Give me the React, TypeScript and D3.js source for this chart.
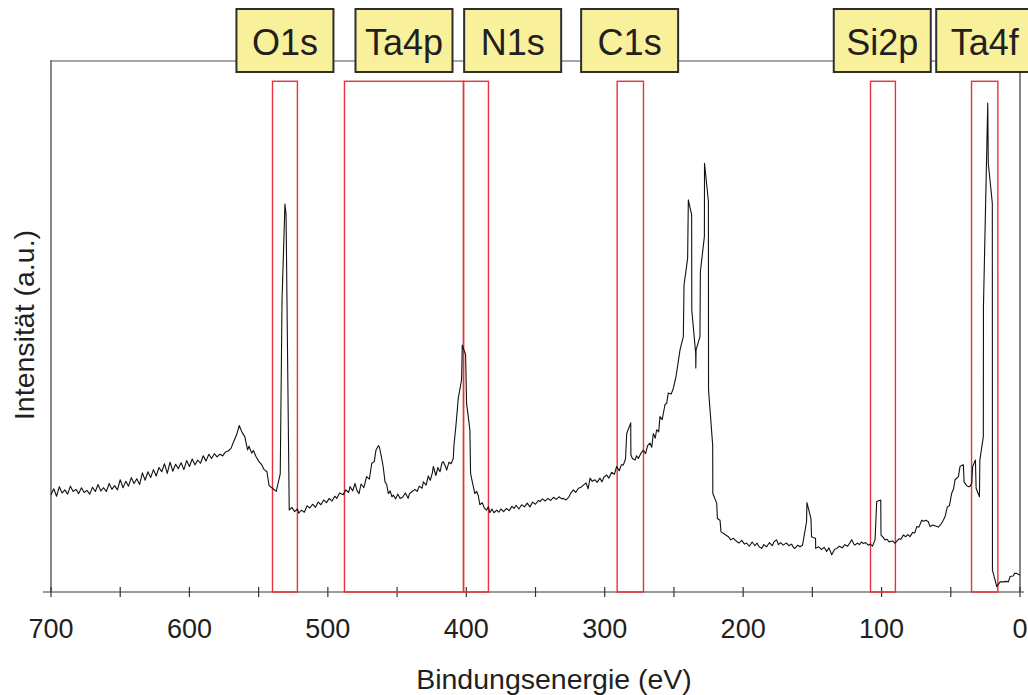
import React from "react";
import * as d3 from "d3";

// XPS survey spectrum: binding energy (eV) and intensity (a.u., 0–100)
const energy: number[] = [
  700, 698, 696, 694, 692, 690, 688, 686, 684, 682, 680, 678, 676, 674, 672, 670, 668, 666, 664, 662,
  660, 658, 656, 654, 652, 650, 648, 646, 644, 642, 640, 638, 636, 634, 632, 630, 628, 626, 624, 622,
  620, 618, 616, 614, 612, 610, 608, 606, 604, 602, 600, 598, 596, 594, 592, 590, 588, 586, 584, 582,
  580, 578, 576, 574, 572, 570, 568, 566, 564, 562, 560, 558, 557, 555, 553.8, 552, 550, 548, 546, 544,
  542.5, 540, 537.3, 534.4, 533.1, 531.0, 530.2, 527.9, 526, 524, 522, 521, 519, 517, 515, 513, 511, 509, 507, 505,
  503, 501, 499, 497, 495, 493.6, 491.5, 489, 487, 485, 484, 482, 480.4, 479, 477.5, 476, 474, 472, 470, 468.3,
  466.5, 465.2, 463.5, 462.8, 461.1, 460, 458.7, 457.5, 456.3, 455, 453.7, 452.7, 451, 449.5, 447.9, 446, 444, 442, 441, 439.5,
  437.1, 435.5, 434, 432, 431.0, 429, 427.5, 426, 424.5, 423.8, 422, 420.5, 419, 417.5, 416.6, 415, 414.2, 412.5, 411, 409.4,
  408.9, 407.5, 405.8, 403.4, 402.9, 400.5, 399.8, 397.4, 396.9, 395.5, 393.8, 392.5, 391.4, 390.2, 388.5, 387, 385.4, 384, 383.0, 381.5,
  380, 378, 376.5, 375, 373, 371, 369, 367, 365.5, 364, 362, 360, 358, 356, 354, 352, 350, 348, 346.7, 345,
  343, 341, 339, 337, 335, 333, 331, 329.9, 328, 326, 324.5, 322.6, 321, 319, 317, 315.4, 313.5, 312, 310.6, 309,
  307, 305.5, 303.4, 302, 300.5, 298.6, 297, 295, 293, 291.4, 289.5, 288, 286.5, 285, 284.1, 281.2, 281.1, 280, 278.1, 277,
  275.7, 274, 272.1, 270.5, 269, 267.3, 266, 264.9, 263.5, 262.5, 261, 260.1, 258.5, 257.6, 256.5, 255.2, 254.1, 252, 250.4, 248.5,
  245.6, 243.2, 242.7, 240.1, 239.6, 237.2, 237.1, 234.3, 234.2, 234.0, 231.2, 230.9, 228.0, 227.9, 225.1, 225.0, 222.0, 221.9, 219.1, 218.6,
  216.7, 216.0, 214, 212.5, 210.7, 209, 207, 204.7, 203, 201, 199, 197.5, 195.5, 193.5, 191.5, 190, 188.5, 186.6, 185, 183,
  181, 179, 177.5, 175.8, 174.5, 173, 171, 169.5, 168.6, 167, 165, 163.5, 162.6, 160.5, 159, 157.1, 154.2, 153.9, 151.0, 150.6,
  149, 147.7, 147.6, 145.5, 143.5, 141.5, 139.7, 138, 136.0, 134, 132.4, 130.5, 128.5, 126.5, 124.5, 123, 121.6, 120, 119.2, 117.5,
  116, 114.5, 113, 111.5, 109.6, 108, 106.6, 104.7, 103.5, 100.6, 100.4, 99, 97.5, 96, 94.5, 93.9, 92, 90.5, 89.1, 87.5,
  86, 84.3, 82.5, 81, 79.5, 77.5, 76, 74.6, 73, 71.0, 69.5, 68, 66.2, 65.0, 63, 61, 59.0, 57.5, 55.4, 54,
  52.5, 51, 49.4, 48, 46.9, 44.5, 43.3, 42, 40.9, 40.4, 38.5, 37.3, 36, 34.9, 34.2, 32.2, 31.7, 29.3, 29.0, 26.5,
  26.4, 23.3, 22.9, 20.0, 19.9, 16.8, 14.4, 12, 10, 8.4, 7.2, 5, 3.8, 2.4, 1, 0,
];

const intensity: number[] = [
  18.3, 19.4, 18.0, 19.8, 18.6, 19.2, 18.4, 19.9, 18.9, 19.3, 18.5, 19.6, 18.7, 19.1, 18.4, 19.7, 18.9, 20.2, 19.0, 19.6,
  18.9, 20.4, 19.3, 20.0, 19.2, 21.1, 19.6, 20.8, 19.9, 21.5, 20.4, 21.3, 20.2, 22.4, 21.0, 22.6, 21.5, 23.0, 21.8, 23.4,
  22.6, 24.1, 22.3, 24.4, 22.7, 24.0, 23.2, 24.3, 23.0, 24.7, 23.6, 25.0, 23.9, 24.8, 24.2, 25.6, 24.6, 25.9, 25.1, 26.0,
  25.4, 25.9, 25.6, 26.3, 26.5, 27.0, 28.3, 29.5, 31.3, 30.0, 29.2, 26.7, 27.4, 26.1, 26.6, 25.5, 24.6, 24.0, 23.0, 22.6,
  20.0, 19.5, 18.9, 22.2, 54.9, 72.9, 70.9, 15.4, 15.9, 15.1, 15.6, 14.8, 15.4, 15.0, 16.2, 15.8, 16.5, 15.9, 16.9, 16.4,
  17.3, 16.8, 17.6, 17.1, 18.0, 17.6, 18.6, 18.3, 19.2, 18.7, 19.8, 19.0, 20.4, 19.1, 18.5, 20.3, 19.6, 21.7, 21.2, 24.2,
  24.5, 26.7, 27.5, 27.3, 25.1, 23.5, 20.7, 20.2, 18.5, 19.0, 17.9, 18.2, 17.5, 18.4, 17.6, 17.8, 18.6, 17.6, 18.5, 18.8,
  19.3, 18.9, 19.9, 19.5, 20.7, 20.1, 21.8, 21.0, 22.4, 23.6, 21.9, 23.4, 22.6, 24.3, 24.5, 23.6, 22.9, 24.4, 24.1, 25.1,
  27.6, 31.2, 36.4, 39.9, 46.4, 44.6, 35.5, 30.5, 22.3, 20.5, 18.5, 18.9, 18.2, 16.4, 16.8, 15.8, 15.4, 16.0, 14.9, 15.6,
  14.9, 15.4, 15.0, 15.6, 15.1, 15.7, 15.3, 16.1, 15.7, 16.3, 15.6, 16.4, 16.0, 16.7, 16.0, 16.9, 16.5, 17.2, 17.0, 17.5,
  17.1, 17.6, 17.2, 17.8, 17.4, 17.9, 17.5, 17.6, 17.3, 17.8, 18.6, 19.2, 18.7, 19.5, 19.7, 20.1, 20.5, 19.4, 21.4, 20.8,
  21.1, 20.6, 21.4, 20.7, 21.6, 22.0, 21.4, 22.5, 22.1, 23.6, 22.8, 23.9, 23.9, 25.0, 29.8, 31.8, 25.8, 25.1, 24.8, 25.6,
  25.1, 26.0, 26.7, 26.0, 27.5, 28.0, 27.2, 29.8, 28.9, 30.5, 30.1, 33.0, 32.4, 33.6, 35.2, 35.5, 37.4, 37.2, 38.3, 40.5,
  45.5, 48.0, 57.7, 62.7, 73.7, 70.9, 53.0, 44.9, 42.1, 45.5, 48.0, 60.2, 66.8, 80.6, 73.4, 38.0, 27.6, 18.5, 16.7, 13.8,
  13.5, 11.3, 11.0, 10.7, 10.4, 9.8, 10.1, 9.5, 9.2, 9.7, 9.0, 9.2, 8.6, 9.4, 8.7, 9.2, 8.5, 8.2, 8.9, 8.5,
  9.3, 8.7, 9.5, 9.8, 8.9, 9.3, 8.8, 9.1, 9.2, 8.7, 9.0, 8.3, 8.2, 8.8, 8.5, 8.8, 13.2, 16.8, 13.8, 10.4,
  10.2, 10.1, 8.2, 8.5, 8.0, 8.4, 7.6, 8.3, 7.0, 8.0, 8.2, 8.6, 8.3, 8.9, 8.6, 9.2, 9.8, 9.0, 8.8, 9.2,
  8.9, 9.4, 9.1, 9.3, 8.8, 9.0, 8.6, 9.8, 17.0, 17.3, 10.7, 10.3, 9.8, 9.9, 9.4, 9.5, 9.6, 9.2, 9.5, 10.0,
  9.9, 10.7, 10.4, 10.8, 10.4, 11.2, 11.1, 12.3, 12.2, 13.5, 13.3, 13.5, 13.2, 12.3, 12.6, 12.4, 12.2, 12.6, 13.5, 14.3,
  16.0, 16.2, 18.5, 19.4, 21.1, 21.7, 23.6, 23.8, 23.9, 20.7, 20.0, 19.8, 19.9, 20.4, 23.6, 24.8, 19.5, 17.9, 24.8, 29.2,
  53.6, 91.9, 80.6, 73.1, 4.1, 1.0, 1.9, 1.9, 2.0, 1.9, 2.9, 3.0, 3.5, 3.5, 3.3, 3.2,
];

// Highlighted element regions (binding energy range, eV)
const regionNames: string[] = ["O1s", "Ta4p", "N1s", "C1s", "Si2p", "Ta4f"];
const regionHigh: number[] = [540, 488, 402, 291, 108, 35];
const regionLow: number[] = [522, 402, 384, 272, 90, 16];
const regionTop = 96;
// Label box centres (eV)
const labelCenter: number[] = [531, 445, 366.5, 282, 99.5, 25.5];

const tickValues: number[] = [700, 650, 600, 550, 500, 450, 400, 350, 300, 250, 200, 150, 100, 50, 0];
const tickLabels: number[] = [700, 600, 500, 400, 300, 200, 100, 0];

const W = 1028;
const H = 695;
const left = 51;
const right = 1020;
const top = 60;
const bottom = 592;
const font = "'Liberation Sans', Arial, Helvetica, sans-serif";

export default function App() {
  const x = d3.scaleLinear().domain([700, 0]).range([left, right]);
  const y = d3.scaleLinear().domain([0, 100]).range([bottom, top]);

  const pts: [number, number][] = energy.map((e, i) => [e, intensity[i]]);
  const line = d3
    .line<[number, number]>()
    .x((d) => x(d[0]))
    .y((d) => y(d[1]));

  const boxW = 97;
  const boxTop = 9;
  const boxH = 63;

  return (
    <svg
      width={W}
      height={H}
      style={{ position: "absolute", left: 0, top: 0, background: "#fff" }}
      fontFamily={font}
    >
      {/* frame */}
      <line x1={left} y1={top + 1} x2={right} y2={top + 1} stroke="#8a8a8a" strokeWidth={1.5} />
      <line x1={left} y1={top} x2={left} y2={bottom} stroke="#6a6a6a" strokeWidth={1.6} />
      <line x1={right} y1={72} x2={right} y2={bottom} stroke="#444" strokeWidth={1.3} />
      <line x1={43} y1={bottom} x2={right + 4} y2={bottom} stroke="#7a7a7a" strokeWidth={1.6} />

      {/* x ticks */}
      {tickValues.map((t) => (
        <line key={"t" + t} x1={x(t)} x2={x(t)} y1={bottom - 5} y2={bottom + 5} stroke="#333" strokeWidth={1.2} />
      ))}
      {tickLabels.map((t) => (
        <text key={"l" + t} x={x(t)} y={638} fontSize={27} textAnchor="middle" fill="#231f20">
          {t}
        </text>
      ))}

      {/* highlighted regions */}
      {regionNames.map((n, i) => (
        <rect
          key={"r" + n}
          x={x(regionHigh[i])}
          y={y(regionTop)}
          width={x(regionLow[i]) - x(regionHigh[i])}
          height={y(0) - y(regionTop)}
          fill="none"
          stroke="#e8313a"
          strokeWidth={1.4}
        />
      ))}

      {/* spectrum */}
      <path d={line(pts) ?? ""} fill="none" stroke="#111" strokeWidth={1.1} strokeLinejoin="round" />

      {/* element labels */}
      {regionNames.map((n, i) => {
        const cx = x(labelCenter[i]);
        return (
          <g key={"b" + n}>
            <rect
              x={cx - boxW / 2}
              y={boxTop}
              width={boxW}
              height={boxH}
              fill="#f9f09b"
              stroke="#2e2e2e"
              strokeWidth={2}
            />
            <text x={cx} y={55} fontSize={36} textAnchor="middle" fill="#231f20">
              {n}
            </text>
          </g>
        );
      })}

      {/* axis titles */}
      <text x={554} y={689} fontSize={28.5} textAnchor="middle" fill="#231f20">
        Bindungsenergie (eV)
      </text>
      <text
        transform={`translate(34, 325) rotate(-90)`}
        fontSize={28.5}
        textAnchor="middle"
        fill="#231f20"
      >
        Intensität (a.u.)
      </text>
    </svg>
  );
}
